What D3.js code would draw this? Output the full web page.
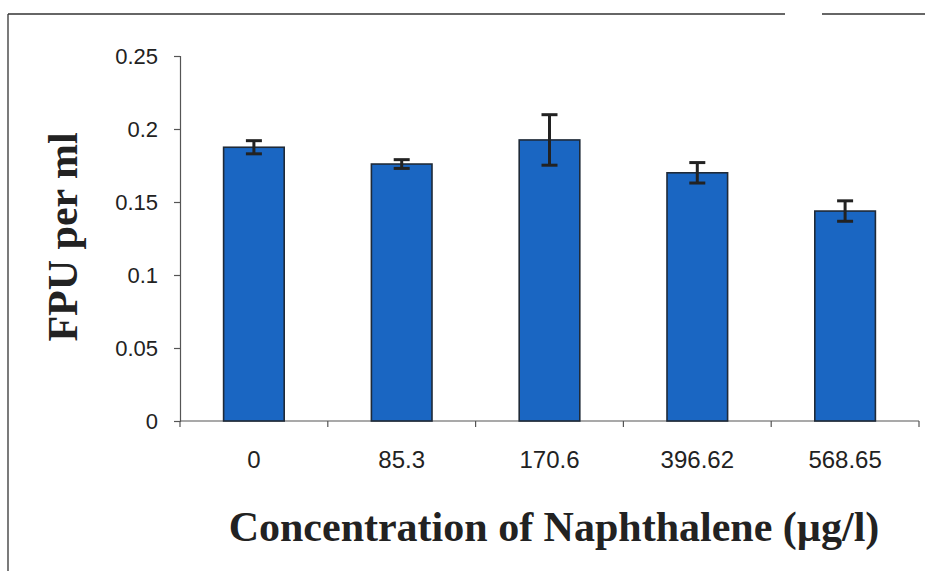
<!DOCTYPE html>
<html>
<head>
<meta charset="utf-8">
<script src="https://cdn.jsdelivr.net/npm/d3@7"></script>
<style>
  html, body { margin: 0; padding: 0; background: #fff; }
  svg { display: block; }
</style>
</head>
<body>
<svg id="chart" width="925" height="571"></svg>
<script>
// Naphthalene concentrations (µg/l) and the measured enzyme activity
const concentrations = ["0", "85.3", "170.6", "396.62", "568.65"];
const fpuMeans = [0.1875, 0.176, 0.1925, 0.170, 0.1438];
const fpuErrors = [0.0045, 0.003, 0.0173, 0.007, 0.007];
const yTicks = [0, 0.05, 0.1, 0.15, 0.2, 0.25];

const svg = d3.select("#chart");
const W = 925, H = 571;
const plot = { left: 180, right: 919, top: 56, bottom: 421 };

svg.append("rect").attr("width", W).attr("height", H).attr("fill", "#fff");

// page frame
const frame = svg.append("g").attr("stroke", "#333").attr("stroke-width", 1.3);
frame.append("line").attr("x1", 8).attr("x2", 785).attr("y1", 14).attr("y2", 14);
frame.append("line").attr("x1", 822).attr("x2", 925).attr("y1", 14).attr("y2", 14);
frame.append("line").attr("x1", 8).attr("x2", 8).attr("y1", 14).attr("y2", 571);

const x = d3.scaleBand()
  .domain(concentrations)
  .range([plot.left, plot.right])
  .paddingInner(0.59)
  .paddingOuter(0.295);

const y = d3.scaleLinear().domain([0, 0.25]).range([plot.bottom, plot.top]);

// y axis
const yAxis = svg.append("g")
  .attr("transform", `translate(${plot.left},0)`)
  .call(d3.axisLeft(y).tickValues(yTicks)
    .tickFormat(d => d3.format("")(+d.toFixed(2)))
    .tickSize(6).tickPadding(16));
yAxis.select(".domain").attr("stroke", "#555").attr("stroke-width", 1.2);
yAxis.selectAll(".tick line").attr("stroke", "#555").attr("stroke-width", 1.2);
yAxis.selectAll(".tick text")
  .attr("font-family", "Liberation Sans, Arial, sans-serif")
  .attr("font-size", 22)
  .attr("fill", "#222");

// x axis with ticks on the category boundaries
const boundaries = concentrations.map(c => x(c) - x.step() * x.paddingInner() / 2)
  .concat([plot.right]);
const xAxisG = svg.append("g").attr("transform", `translate(0,${plot.bottom})`);
xAxisG.append("line")
  .attr("x1", plot.left).attr("x2", plot.right)
  .attr("stroke", "#555").attr("stroke-width", 1.2);
xAxisG.selectAll("line.tick")
  .data(boundaries)
  .join("line")
  .attr("class", "tick")
  .attr("x1", d => d).attr("x2", d => d)
  .attr("y1", 0).attr("y2", 6)
  .attr("stroke", "#555").attr("stroke-width", 1.2);
xAxisG.selectAll("text")
  .data(concentrations)
  .join("text")
  .attr("x", d => x(d) + x.bandwidth() / 2)
  .attr("y", 47)
  .attr("text-anchor", "middle")
  .attr("font-family", "Liberation Sans, Arial, sans-serif")
  .attr("font-size", 24)
  .attr("fill", "#222")
  .text(d => d);

// bars
svg.append("g").selectAll("rect")
  .data(concentrations)
  .join("rect")
  .attr("x", d => x(d))
  .attr("y", (d, i) => y(fpuMeans[i]))
  .attr("width", x.bandwidth())
  .attr("height", (d, i) => y(0) - y(fpuMeans[i]))
  .attr("fill", "#1a66c2")
  .attr("stroke", "#1f2a38")
  .attr("stroke-width", 1.6);

// error bars
const err = svg.append("g").attr("stroke", "#222").attr("stroke-width", 3);
concentrations.forEach((c, i) => {
  const cx = x(c) + x.bandwidth() / 2;
  const hi = y(fpuMeans[i] + fpuErrors[i]);
  const lo = y(fpuMeans[i] - fpuErrors[i]);
  err.append("line").attr("x1", cx).attr("x2", cx).attr("y1", hi).attr("y2", lo);
  err.append("line").attr("x1", cx - 8).attr("x2", cx + 8).attr("y1", hi).attr("y2", hi);
  err.append("line").attr("x1", cx - 8).attr("x2", cx + 8).attr("y1", lo).attr("y2", lo);
});

// axis titles
svg.append("text")
  .attr("transform", "translate(77,237) rotate(-90)")
  .attr("text-anchor", "middle")
  .attr("font-family", "Liberation Serif, Times New Roman, serif")
  .attr("font-weight", "bold")
  .attr("font-size", 42)
  .attr("fill", "#222")
  .text("FPU per ml");

svg.append("text")
  .attr("x", 554)
  .attr("y", 541)
  .attr("text-anchor", "middle")
  .attr("font-family", "Liberation Serif, Times New Roman, serif")
  .attr("font-weight", "bold")
  .attr("font-size", 42)
  .attr("fill", "#222")
  .text("Concentration of Naphthalene (µg/l)");
</script>
</body>
</html>
